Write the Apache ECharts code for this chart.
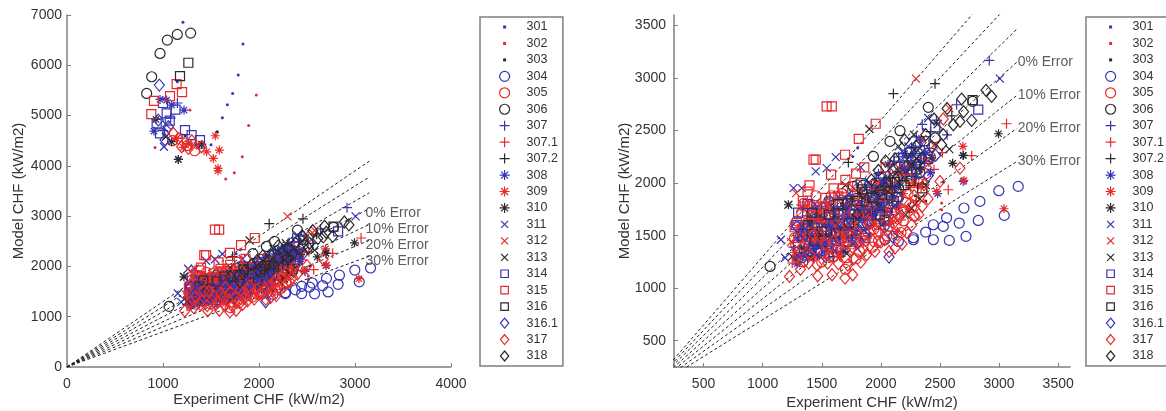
<!DOCTYPE html>
<html><head><meta charset="utf-8">
<style>html,body{margin:0;padding:0;background:#fff;overflow:hidden}#c{width:1166px;height:411px;filter:blur(0.45px)}</style>
<script src="https://cdn.jsdelivr.net/npm/echarts@6/dist/echarts.min.js"></script>
</head><body><div id="c"></div>
<script>
const s301=[[1208,6858],[1833,6421],[1784,5805],[1725,5440],[1670,5215],[1618,4956],[1500,4420],[1149,5672],[1650,1850],[1804,2334],[1762,2254],[1420,1500],[1560,1720],[1700,1600],[1830,1880],[1950,2040],[2100,2180],[2240,2420],[2360,2510],[1480,1290],[2050,1720],[2500,2280]];
const s302=[[1972,5407],[1892,4804],[1826,4181],[1743,3863],[1653,3737],[1281,5109],[917,4367],[2514,1810],[2514,1747],[1700,1400],[1390,1620],[1610,1560],[2150,1980],[1880,1720],[2340,2240]];
const s303=[[1566,4678],[1230,4600],[2420,2190],[2530,2010],[1840,1800],[1960,1930],[2290,1880],[1500,1440],[2120,1760],[2380,1830]];
const s304=[[3162,1969],[2998,1928],[3044,1693],[2838,1826],[2703,1763],[2824,1645],[2556,1670],[2663,1620],[2528,1588],[2444,1604],[2379,1534],[2720,1493],[2579,1455],[2444,1461],[2275,1461],[2275,1480],[2148,1445],[2035,1461]];
const s305=[[1100,4500],[1250,4400],[1330,4300],[1290,1640],[1330,1720],[1360,1560],[1400,1800],[1440,1680],[1470,1500],[1510,1760],[1540,1620],[1580,1880],[1610,1530],[1650,1700],[1690,1440],[1720,1840],[1760,1590],[1800,1980],[1830,1690],[1870,1510],[1910,1870],[1950,1760],[1990,2060],[2030,1640],[2060,1950],[2110,1810],[2160,2030],[2230,1900],[2300,2180],[2380,2090],[1270,1480],[1310,1350],[1350,1810],[1390,1400],[1420,1520],[1450,1880],[1490,1350],[1530,1460],[1570,1690],[1600,1300],[1640,1580],[1670,1900],[1710,1290],[1740,1710],[1780,1480],[1820,1350],[1850,1820],[1890,1610],[1930,1390],[1970,1660],[2010,1930],[2050,1500],[2090,1720],[2130,1910],[2190,1640],[2260,1770],[2320,2000],[2420,2250],[1280,1410],[1320,1500],[1340,1250],[1370,1460],[1410,1330],[1430,1610],[1460,1740],[1500,1250],[1520,1530],[1560,1400],[1590,1590],[1620,1790],[1660,1370],[1680,1620],[1700,1180],[1730,1500],[1770,1730],[1790,1280],[1840,1580],[1860,1450],[1900,1750],[1940,1560],[1980,1450],[2020,1780],[2070,1590],[2120,1680],[2170,1530],[2210,1820],[2280,1690],[2350,1920]];
const s306=[[1288,6640],[1149,6613],[1045,6501],[969,6236],[882,5772],[830,5440],[1063,1207],[1330,1290],[1450,1660],[1560,1830],[1650,1530],[1768,1969],[1820,1760],[1880,1890],[1937,2254],[1960,2000],[2010,1810],[2077,2397],[2110,2050],[2162,2499],[2200,2170],[2401,2721],[2776,2778],[2310,2290],[2460,2430],[1720,1440],[1900,1640],[1500,1420],[1610,1700],[1720,1830],[1850,1980],[2000,1980],[2080,1860],[2250,2300],[1400,1320],[1540,1560],[1680,1700],[1800,1560],[1930,1770],[2050,1720],[2150,1950],[2330,2100]];
const s307=[[1000,4700],[1080,4950],[1150,5250],[2917,3168],[2641,2746],[2350,2560],[2470,2600],[1320,1300],[1410,1480],[1480,1620],[1540,1400],[1600,1760],[1660,1560],[1720,1850],[1790,1670],[1860,1960],[1920,1780],[1980,2090],[2040,1900],[2110,2210],[2180,2020],[2260,2340],[2330,2150],[2560,2460],[1260,1390],[1350,1620],[1380,1270],[1450,1750],[1510,1510],[1570,1860],[1630,1340],[1690,1650],[1750,1480],[1810,1800],[1870,1560],[1940,1910],[2000,1720],[2070,2050],[2150,2250],[2230,2120],[2300,2440],[2410,2330],[1300,1480],[1430,1370],[1500,1780],[1590,1450],[1650,1880],[1730,1580],[1850,1750],[1960,1650],[2090,1980],[2210,2280],[2370,2210]];
const s3071=[[1200,4550],[1300,4400],[1380,4350],[3063,2565],[2768,2261],[2570,1937],[1250,1240],[1350,1390],[1430,1280],[1500,1540],[1590,1350],[1680,1480],[1770,1620],[1850,1430],[1930,1750],[2000,1560],[2090,1830],[2170,1650],[2250,1960],[2380,2230],[2520,2290],[1300,1560],[1370,1690],[1450,1450],[1530,1760],[1610,1620],[1660,1300],[1740,1830],[1800,1540],[1880,1880],[1960,1640],[2040,1980],[2130,1760],[2210,2090],[2300,1830],[2450,2130],[1280,1300],[1400,1580],[1560,1480],[1650,1680],[1720,1380],[1830,1700],[1980,1780],[2080,1700],[2270,2070],[2340,1960]];
const s3072=[[2458,2946],[2106,2851],[1725,2197],[1380,1500],[1530,1610],[1680,1750],[1840,1830],[1990,1970],[2140,2110],[2290,2340],[2420,2490],[2600,2640],[1600,1300],[1450,1380],[1620,1740],[1760,1500],[1930,1690],[2060,1840],[2220,2040]];
const s308=[[1160,4128],[906,4691],[1219,5109],[969,5321],[1038,5308],[1090,5208],[1403,4426],[2697,2264],[2697,2016],[2480,1900],[1290,1230],[1400,1420],[1480,1310],[1560,1590],[1640,1460],[1720,1700],[1800,1560],[1880,1850],[1950,1720],[2020,2010],[2100,1880],[2200,2130],[2300,2060],[2380,2290],[2420,2100],[1330,1560],[1370,1310],[1440,1650],[1520,1440],[1600,1760],[1680,1350],[1760,1880],[1840,1660],[1920,1960],[1990,1810],[2060,2180],[2150,1980],[2250,2260],[2340,2410]];
const s309=[[1545,4599],[1587,4314],[1524,4148],[1573,3949],[1573,3903],[1351,4413],[1455,4280],[1264,4446],[1212,4367],[1142,4546],[2694,2350],[2703,2026],[3041,1756],[2472,1921],[1330,1500],[1420,1330],[1500,1660],[1610,1490],[1700,1780],[1790,1400],[1880,1680],[1980,1850],[2090,1620],[2190,1900],[1270,1340],[1380,1640],[1460,1420],[1550,1780],[1650,1300],[1750,1560],[1830,1470],[1930,1590],[2030,1740],[2140,1540],[2240,1750],[2320,1980],[1360,1780],[1440,1300],[1590,1640],[1700,1480],[1800,1700],[1900,1500],[2010,1640],[2160,1770],[2280,2000]];
const s310=[[2995,2470],[2607,2188],[2697,2264],[1218,1794],[927,4923],[1160,4128],[1090,4480],[1403,4426],[1330,1380],[1470,1520],[1610,1680],[1760,1850],[1860,1780],[1950,1920],[2050,2040],[2200,2280],[2330,2130],[2430,2240],[1400,1610],[1540,1380],[1680,1560],[1820,1900],[1900,1840],[1990,1790],[2100,1950],[2260,2180]];
const s311=[[3007,2994],[1618,2248],[1542,2143],[1449,2112],[1261,1953],[1331,1953],[1154,1461],[1289,1477],[1830,2150],[1190,1290],[1400,1700],[1480,1390],[1560,1810],[1650,1640],[1730,1900],[1820,1750],[1900,2010],[1990,1860],[2080,2140],[2180,2300],[2280,2180],[2400,2620],[1038,4811],[1010,4380],[1310,1300],[1430,1510],[1520,1660],[1610,1360],[1690,1780],[1770,1450],[1860,1890],[1940,1680],[2030,2020],[2130,1930],[2230,2350],[2340,2280],[1340,1480],[1440,1800],[1590,1560],[1720,1620],[1800,1380],[1900,1850],[2010,1760],[2170,2120]];
const s312=[[2297,2994],[2579,2714],[1283,1905],[1240,1440],[1380,1540],[1470,1720],[1560,1350],[1640,1870],[1720,1520],[1800,1790],[1890,1600],[1970,1990],[2060,1730],[2150,2150],[2240,1990],[2350,2420],[2450,2360],[1320,1760],[1420,1440],[1510,1600],[1600,1730],[1680,1410],[1760,1960],[1850,1700],[1930,1510],[2020,1860],[2110,1640],[2190,2060],[2300,1810],[2400,2180],[1290,1260],[1480,1470],[1650,1350],[1780,1600],[1920,1780],[2080,1930],[2240,2180]];
const s313=[[1903,2515],[2579,2324],[1218,1794],[1250,1300],[1560,1500],[1710,1330],[1900,1730],[2010,1600],[2120,1790],[2210,1700],[2330,1850],[2380,1980],[2280,2460],[2480,2560],[2150,2350],[1700,1980],[1031,4579],[1400,1300],[1480,1680],[1630,1600],[1800,1660],[1950,1840],[2060,1920],[2260,1760]];
const s314=[[2824,2699],[1300,1720],[1350,1340],[1420,1600],[1500,1450],[1580,1680],[1670,1820],[1750,1520],[1830,2000],[1900,1700],[1990,1800],[2080,2000],[2150,2240],[2240,2290],[2370,2400],[2460,2530],[969,4645],[1229,4711],[1298,4612],[1385,4512],[934,4844],[1038,5043],[1000,5250],[1130,5120],[1070,4900],[1330,1490],[1380,1800],[1460,1360],[1540,1560],[1620,1450],[1710,1650],[1790,1790],[1870,1480],[1950,1930],[2030,1650],[2110,1830],[2190,2100],[2300,2240],[1280,1600],[1400,1350],[1480,1720],[1560,1330],[1600,1620],[1690,1480],[1770,1700],[1850,1620],[1920,1860],[2000,2060],[2060,1770],[2240,2170],[2330,2310],[2400,2230]];
const s315=[[1142,5626],[1198,5467],[1073,5387],[906,5294],[878,5029],[1541,2730],[1585,2730],[1956,2565],[1813,2422],[1697,2270],[1449,2223],[1430,2223],[1396,1978],[1579,2080],[1380,1920],[1290,1620],[1270,1580],[1430,1690],[1510,1780],[1600,1950],[1700,2030],[1790,2090],[1860,2150],[1610,1690],[1530,1860],[1330,1560],[1360,1780],[1470,1620],[1550,1500],[1640,1880],[1720,1650],[1800,1900],[1880,1720],[1950,1980],[2040,2150],[1300,1480],[1340,1830],[1400,1500],[1450,1770],[1500,1670],[1580,1780],[1660,1480],[1680,1950],[1760,1750],[1840,1840],[1910,1630],[2000,1880],[2120,2050],[2220,2120]];
const s316=[[1264,6050],[1177,5785],[2776,2790],[1380,1600],[1420,1720],[1640,1800],[1840,1940],[1990,1700],[2140,1870],[2250,2020],[2350,1950],[1500,1540],[1560,1700],[1730,1620],[1930,1860],[2060,2010],[2200,1980],[1440,1450],[1620,1520],[1800,1830],[2010,1890],[2120,2010],[2300,2130]];
const s3161=[[962,5606],[1021,4513],[1055,4778],[951,4910],[2069,1296],[2463,2264],[1300,1270],[1420,1380],[1520,1560],[1640,1720],[1760,1470],[1880,1610],[1980,2000],[2100,1490],[2200,2200],[2310,2370],[2400,2070],[1360,1510],[1470,1350],[1580,1440],[1700,1600],[1820,1780],[1930,1730],[2030,1580],[2150,1850],[2260,2110],[1290,1590],[1400,1560],[1530,1300],[1620,1580],[1740,1720],[1860,1500],[2000,1860],[2120,1730],[2330,2170]];
const s317=[[1264,4347],[1160,4546],[1108,4645],[1194,4380],[1300,4500],[1400,4380],[1227,1112],[1466,1118],[1587,1128],[1697,1096],[1762,1128],[1880,1318],[1830,1248],[1641,1233],[2120,1382],[1550,1240],[1390,1240],[1290,1290],[1930,1450],[1980,1540],[2180,1420],[2220,1530],[2260,1600],[2289,1683],[2070,1350],[2528,2610],[2669,2143],[2500,2016],[2365,1985],[1760,1390],[1480,1500],[2110,1620],[2180,1750],[1340,1400],[1430,1510],[1510,1330],[1600,1450],[1650,1580],[1720,1220],[1800,1520],[1850,1370],[1900,1610],[2030,1460],[2140,1510],[2240,1800],[2320,1700],[2400,1850],[1320,1180],[1400,1320],[1460,1220],[1530,1420],[1570,1300],[1630,1370],[1700,1490],[1770,1280],[1840,1470],[1950,1350],[2000,1440],[2060,1560],[2160,1680],[2280,1880],[2350,1780]];
const s318=[[2683,2800],[2889,2883],[2937,2825],[2768,2597],[2669,2587],[2613,2556],[2528,2461],[2514,2365],[2450,2610],[2380,2460],[2300,2350],[2200,2410],[2120,2230],[1980,2120],[2560,2710],[2700,2680],[1700,1800],[1850,1910],[2040,2210],[2260,2230],[2150,2060],[2350,2240],[1920,2030],[1800,1700],[1990,1930],[2100,2120],[2210,2150],[2300,2180],[2430,2350],[2040,1950]];

const seriesNames=['301','302','303','304','305','306','307','307.1','307.2','308','309','310','311','312','313','314','315','316','316.1','317','318'];
const seriesValues=[s301,s302,s303,s304,s305,s306,s307,s3071,s3072,s308,s309,s310,s311,s312,s313,s314,s315,s316,s3161,s317,s318];
const seriesMarks=['dot','dot','dot','circle','circle','circle','plus','plus','plus','star','star','star','cross','cross','cross','rect','rect','rect','diamond','diamond','diamond'];
const seriesColors=['b','r','k','b','r','k','b','r','k','b','r','k','b','r','k','b','r','k','b','r','k'];

const guideLines=[[[0,0],[3150,4095]],[[0,0],[3150,3780]],[[0,0],[3150,3465]],[[0,0],[3150,3150]],[[0,0],[3150,2835]],[[0,0],[3150,2520]],[[0,0],[3150,2205]]];
const errorLabels=['0% Error','10% Error','20% Error','30% Error'];
const leftLabelAt=[[3110,3062],[3110,2744],[3110,2425],[3110,2107]];
const rightLabelAt=[[3157,3150],[3157,2835],[3157,2520],[3157,2205]];
const leftXTicks=[0,1000,2000,3000,4000];
const leftYTicks=[0,1000,2000,3000,4000,5000,6000,7000];
const rightTicks=[500,1000,1500,2000,2500,3000,3500];

const palette={b:'#3434b4',r:'#e82a2a',k:'#2a2a2a'};
const shapes={
  dot:'circle',circle:'circle',
  rect:'path://M0 0H10V10H0Z',
  diamond:'path://M5 0L10 6L5 12L0 6Z',
  plus:'path://M0 5H10M5 0V10',
  cross:'path://M1 1L9 9M9 1L1 9',
  star:'path://M0 5H10M5 0V10M1.5 1.5L8.5 8.5M8.5 1.5L1.5 8.5'
};
const legendIcons={
  dot:'path://M0 0L0 0M10 10L10 10M3.5 3.5H6.5V6.5H3.5Z',
  circle:'circle',
  rect:'path://M0 0L0 0M12 12L12 12M1.5 1.5H10.5V10.5H1.5Z',
  diamond:'path://M5 0L10 6L5 12L0 6Z',
  plus:shapes.plus,
  cross:'path://M0 0L0 0M10 10L10 10M1.5 1.5L8.5 8.5M8.5 1.5L1.5 8.5',
  star:shapes.star
};
const sizes={dot:3,circle:10,rect:9,diamond:[10,12],plus:10,cross:8,star:9};
const axisCol='#7f7f7f',textCol='#333333',fontF='"Liberation Sans",Arial,sans-serif';

function markStyle(i){
  const c=palette[seriesColors[i]];
  return seriesMarks[i]==='dot'?{color:c,borderWidth:0,opacity:1}:{color:'transparent',borderColor:c,borderWidth:1.2,opacity:1};
}
function legendFor(left,rightPad){
  return {left,top:17,orient:'vertical',selectedMode:false,itemWidth:34,itemHeight:10,itemGap:2.45,
    padding:[3,rightPad,3,19],borderColor:axisCol,borderWidth:1.5,
    textStyle:{color:textCol,fontSize:12.5,fontFamily:fontF,lineHeight:14},
    data:seriesNames.map((n,i)=>({name:n,icon:legendIcons[seriesMarks[i]],itemStyle:Object.assign({},markStyle(i),seriesMarks[i]==='dot'?{borderColor:'transparent'}:{})}))};
}
function axisBase(name,gap,margin){
  return {type:'value',name,nameLocation:'middle',nameGap:gap,nameMoveOverlap:false,
    nameTextStyle:{color:textCol,fontSize:15,fontFamily:fontF},
    splitLine:{show:false},
    axisLine:{show:true,onZero:false,lineStyle:{color:axisCol,width:1.5}},
    axisTick:{show:true,inside:true,length:4,lineStyle:{color:axisCol}},
    axisLabel:{color:textCol,fontSize:14,fontFamily:fontF,margin,formatter:v=>String(v),hideOverlap:false,showMinLabel:true,showMaxLabel:true}};
}
function customAxis(name,gap,margin,ticks){
  const a=axisBase(name,gap,margin);
  a.min=250;a.max=3600;
  a.axisTick.customValues=ticks;
  a.axisLabel.customValues=ticks;
  return a;
}
const series=[];
[0,1].forEach(g=>{
  guideLines.forEach(l=>series.push({type:'line',xAxisIndex:g,yAxisIndex:g,data:l,symbol:'none',silent:true,clip:true,
    lineStyle:{color:'#222',width:1,type:[3,2.5]},z:1}));
  seriesNames.forEach((n,i)=>series.push({type:'scatter',name:n,xAxisIndex:g,yAxisIndex:g,data:seriesValues[i],clip:true,
    symbol:shapes[seriesMarks[i]],symbolSize:sizes[seriesMarks[i]],itemStyle:markStyle(i),silent:true,z:2}));
  const at=g?rightLabelAt:leftLabelAt;
  series.push({type:'scatter',xAxisIndex:g,yAxisIndex:g,symbolSize:0,silent:true,clip:false,z:3,
    data:at.map((p,i)=>({value:p,name:errorLabels[i]})),
    label:{show:true,position:'right',distance:0,formatter:'{b}',color:textCol,fontSize:14,fontFamily:fontF}});
});
const chart=echarts.init(document.getElementById('c'),null,{renderer:'canvas'});
chart.setOption({
  animation:false,backgroundColor:'#fff',
  legend:[legendFor(480,5),legendFor(1086,100)],
  grid:[{left:67,top:15,width:384,height:352,outerBoundsMode:'none'},{left:674,top:15,width:396,height:352,outerBoundsMode:'none'}],
  xAxis:[Object.assign(axisBase('Experiment CHF (kW/m2)',25,10),{gridIndex:0,min:leftXTicks[0],max:leftXTicks[4],interval:1000}),
         Object.assign(customAxis('Experiment CHF (kW/m2)',28,10,rightTicks),{gridIndex:1})],
  yAxis:[Object.assign(axisBase('Model CHF (kW/m2)',41,5),{gridIndex:0,min:leftYTicks[0],max:leftYTicks[7],interval:1000}),
         Object.assign(customAxis('Model CHF (kW/m2)',42,8,rightTicks),{gridIndex:1})],
  series
});
</script></body></html>
